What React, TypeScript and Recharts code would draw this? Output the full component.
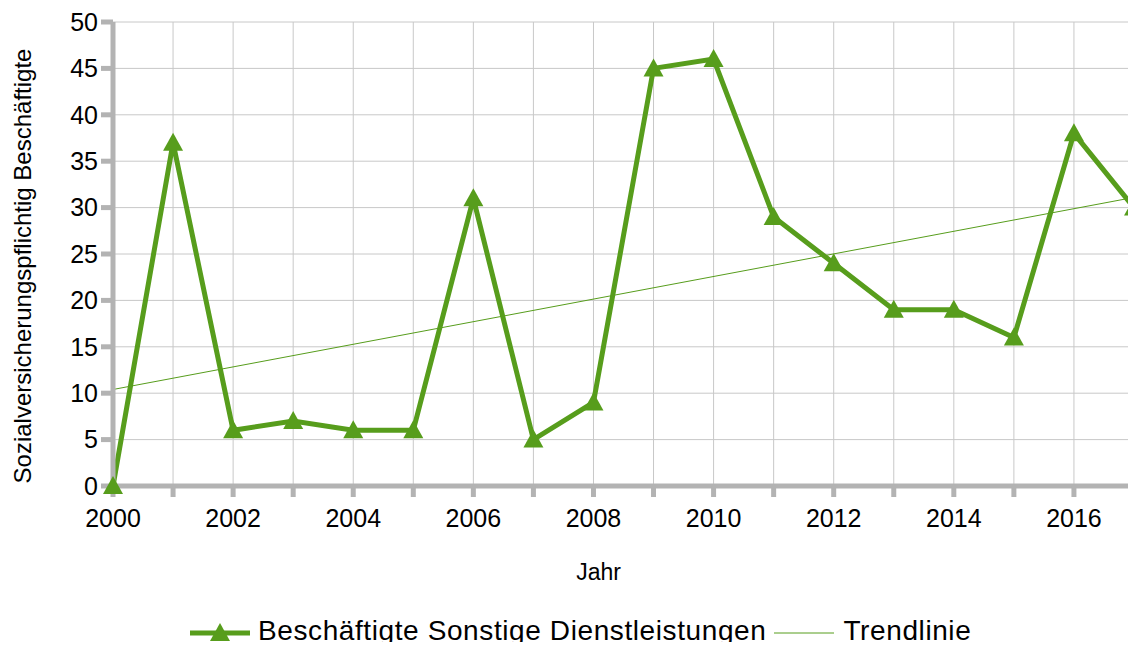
import { LineChart, Line, XAxis, YAxis, CartesianGrid, ReferenceLine, Label } from 'recharts';

const years = [2000, 2001, 2002, 2003, 2004, 2005, 2006, 2007, 2008, 2009, 2010, 2011, 2012, 2013, 2014, 2015, 2016, 2017];
const beschaeftigte = [0, 37, 6, 7, 6, 6, 31, 5, 9, 45, 46, 29, 24, 19, 19, 16, 38, 30];
const yTicks = [0, 5, 10, 15, 20, 25, 30, 35, 40, 45, 50];
// trend line end points (2000 and 2017)
const trendYears = [2000, 2017];
const trendValues = [10.4, 31.1];

const GREEN = '#579d1c';
const AXIS = '#b3b3b3';
const GRID = '#c8c8c8';
const FONT = '"Liberation Sans", Arial, sans-serif';

const data = years.map((year, i) => ({ year, value: beschaeftigte[i] }));

const Triangle = (props: any) => {
  const { cx, cy } = props;
  if (cx == null || cy == null) return null;
  return <polygon points={`${cx},${cy - 10} ${cx - 10},${cy + 8} ${cx + 10},${cy + 8}`} fill={GREEN} />;
};

export default function App() {
  return (
    <div style={{ position: 'relative', width: 1136, height: 650, margin: -8, fontFamily: FONT }}>
      <LineChart width={1136} height={650} data={data} margin={{ top: 22, right: 2, left: 0, bottom: 0 }}>
        <CartesianGrid stroke={GRID} strokeWidth={1} verticalValues={years} horizontalValues={yTicks} />
        <XAxis
          dataKey="year"
          type="number"
          domain={[2000, 2017]}
          ticks={years}
          interval={0}
          height={164}
          tickFormatter={(v: number) => (v % 2 === 0 ? String(v) : '')}
          stroke={AXIS}
          axisLine={{ stroke: AXIS, strokeWidth: 5 }}
          tickLine={{ stroke: AXIS, strokeWidth: 5 }}
          tickSize={11}
          tickMargin={12}
          tick={{ fill: '#000', fontSize: 25, fontFamily: FONT }}
        >
          <Label
            content={(p: any) => (
              <text x={p.viewBox.x + p.viewBox.width / 2 - 25} y={572} textAnchor="middle" dominantBaseline="central" fontSize={23} fontFamily={FONT} fill="#000">
                Jahr
              </text>
            )}
          />
        </XAxis>
        <YAxis
          type="number"
          domain={[0, 50]}
          ticks={yTicks}
          interval={0}
          width={113}
          stroke={AXIS}
          axisLine={{ stroke: AXIS, strokeWidth: 5 }}
          tickLine={{ stroke: AXIS, strokeWidth: 5 }}
          tickSize={12}
          tickMargin={3}
          tick={{ fill: '#000', fontSize: 25, fontFamily: FONT }}
        >
          <Label
            content={() => (
              <text x={22} y={266} transform="rotate(-90 22 266)" textAnchor="middle" dominantBaseline="central" fontSize={24} fontFamily={FONT} fill="#000">
                Sozialversicherungspflichtig Beschäftigte
              </text>
            )}
          />
        </YAxis>
        <ReferenceLine
          segment={[
            { x: trendYears[0], y: trendValues[0] },
            { x: trendYears[1], y: trendValues[1] },
          ]}
          stroke={GREEN}
          strokeWidth={1}
          ifOverflow="visible"
        />
        <Line
          dataKey="value"
          type="linear"
          stroke={GREEN}
          strokeWidth={5}
          strokeLinejoin="miter"
          dot={<Triangle />}
          activeDot={false}
          isAnimationActive={false}
        />
      </LineChart>
      <div style={{ position: 'absolute', top: 615, left: 190, display: 'flex', alignItems: 'center', fontSize: 28, letterSpacing: 0.6, color: '#000', whiteSpace: 'nowrap' }}>
        <svg width={60} height={30} style={{ marginRight: 8 }}>
          <line x1={0} y1={17} x2={60} y2={17} stroke={GREEN} strokeWidth={5} />
          <polygon points="30,7 20,25 40,25" fill={GREEN} />
        </svg>
        <span>Beschäftigte Sonstige Dienstleistungen</span>
        <svg width={60} height={30} style={{ marginLeft: 8, marginRight: 9 }}>
          <line x1={0} y1={17} x2={60} y2={17} stroke={GREEN} strokeWidth={1} />
        </svg>
        <span>Trendlinie</span>
      </div>
    </div>
  );
}
